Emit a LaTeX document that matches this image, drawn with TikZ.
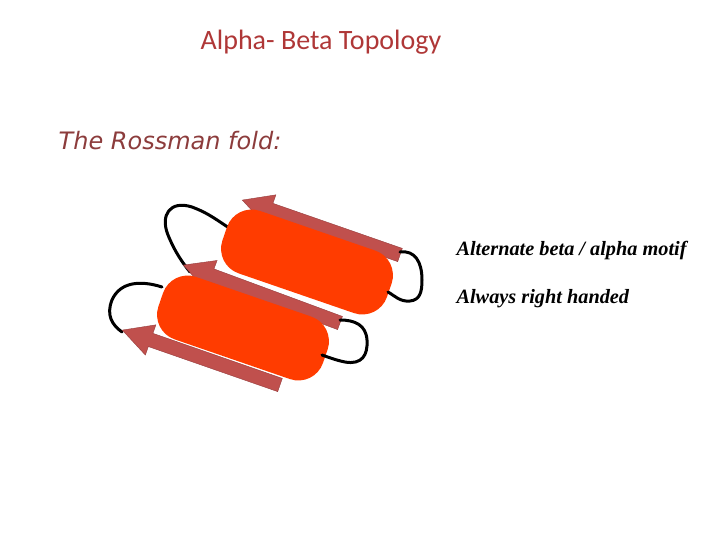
\documentclass[tikz,border=0pt]{standalone}
\usepackage{fontspec}
\setmainfont{Liberation Serif}
\newfontfamily\carl{Carlito}
\newfontfamily\dvs{DejaVu Sans}
\begin{document}
\begin{tikzpicture}[x=1pt,y=-1pt,
  strand/.style={fill={rgb,255:red,192;green,80;blue,77},draw={rgb,255:red,150;green,60;blue,60},line width=0.4pt},
  helix/.style={fill={rgb,255:red,255;green,60;blue,0},draw=none,rounded corners=26pt,minimum width=174pt,minimum height=66pt},
  loopline/.style={line width=3pt,line cap=round}]
\useasboundingbox (0,0) rectangle (720,540);
\def\arrowshape#1#2#3{\begin{scope}[shift={(#1,#2)},rotate=#3]
 \fill[strand] (0,7)--(-137,7)--(-137,16)--(-167,0)--(-137,-16)--(-137,-7)--(0,-7)--cycle;
 \end{scope}}
% loops behind
\draw[loopline] (232,230) .. controls (210,215) and (205,212) .. (192,207) .. controls (170,200) and (160,215) .. (168,235) .. controls (175,252) and (182,262) .. (190,272);
\draw[loopline] (162,287) .. controls (140,280) and (120,282) .. (112,300) .. controls (106,315) and (112,325) .. (122,332);
\arrowshape{400}{255}{-19.2}
\arrowshape{340}{323}{-20.3}
\arrowshape{280}{385}{-19.2}
\node[helix,rotate=-19] (h1) at (307,262) {};
\node[helix,rotate=-19] (h2) at (243,328) {};
\draw[loopline] (400,252) .. controls (415,250) and (422,262) .. (422,280) .. controls (422,292) and (420,300) .. (410,301) .. controls (400,302) and (395,296) .. (388,292);
\draw[loopline] (340,320) .. controls (355,320) and (366,325) .. (367,340) .. controls (368,355) and (362,365) .. (345,362) .. controls (335,360) and (328,357) .. (322,355);
\node[text={rgb,255:red,175;green,55;blue,55},font=\carl\fontsize{28}{32}\selectfont] (t) at (321,42) {Alpha- Beta Topology};
\node[text={rgb,255:red,140;green,60;blue,60},font=\dvs\itshape\fontsize{24}{28}\selectfont] (r) at (170,141) {The Rossman fold:};
\node[anchor=west,font=\itshape\bfseries\fontsize{20.3}{24}\selectfont] (a1) at (453,251) {Alternate beta / alpha motif};
\node[anchor=west,font=\itshape\bfseries\fontsize{20.3}{24}\selectfont] (a2) at (453,299) {Always right handed};
\end{tikzpicture}
\end{document}
